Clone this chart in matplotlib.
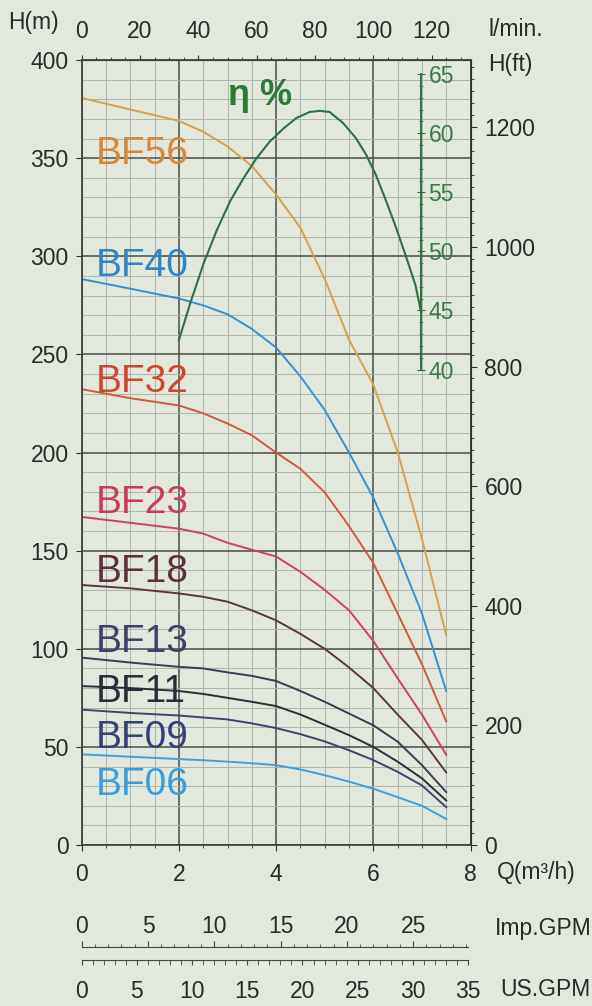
import matplotlib.pyplot as plt
from matplotlib.ticker import MultipleLocator, FixedLocator

plt.rcParams['font.family'] = ['Liberation Sans', 'DejaVu Sans']

# flow (m3/h) and head (m)
q = [0, 1, 2, 2.5, 3, 3.5, 4, 4.5, 5, 5.5, 6, 6.5, 7, 7.5]
bf56 = [380.7, 374.8, 369, 363.5, 356, 346, 331.5, 314.5, 288.5, 257.5, 234.6, 200.3, 156, 107]
bf40 = [288.4, 283.5, 278.5, 275, 270.5, 263, 253.5, 238.8, 221.7, 200, 177, 148.8, 118, 78.5]
bf32 = [232.3, 227.7, 224, 220, 214.8, 208.8, 200, 191.7, 179.7, 162.5, 143.7, 118, 92.2, 63]
bf23 = [167.2, 164.2, 161.2, 158.7, 154, 150.5, 147, 139.2, 130, 119.6, 104, 85, 66.5, 46]
bf18 = [132.5, 130.8, 128.2, 126.5, 124, 119.6, 114.5, 107.6, 100, 90.5, 80, 66.5, 53.6, 37]
bf13 = [95.5, 93, 90.8, 90, 88, 86.2, 83.6, 78.5, 73, 67, 61, 52.7, 40.7, 27]
bf11 = [81, 80, 78.5, 77, 75, 73, 70.8, 66.5, 61.3, 56, 50, 42.5, 34, 22.7]
bf09 = [69, 67.3, 66, 65, 64, 62, 59.6, 56.5, 52.8, 48.3, 43.3, 37.3, 30.4, 19.3]
bf06 = [46.2, 45, 43.8, 43.2, 42.5, 41.7, 40.7, 38.5, 35.6, 32.3, 28.7, 24.4, 20, 13.3]

# efficiency curve (%)
eta_q = [2.0, 2.24, 2.51, 2.78, 3.06, 3.33, 3.60, 3.87, 4.15, 4.42, 4.69, 4.90, 5.10,
         5.37, 5.64, 5.85, 6.05, 6.26, 6.46, 6.67, 6.87, 6.98]
eta = [42.5, 45.7, 49.0, 51.8, 54.3, 56.2, 57.9, 59.3, 60.4, 61.3, 61.8, 61.9, 61.8,
       60.9, 59.6, 58.2, 56.5, 54.3, 52.1, 49.6, 47.1, 44.9]

names = ['BF56', 'BF40', 'BF32', 'BF23', 'BF18', 'BF13', 'BF11', 'BF09', 'BF06']
heads = [bf56, bf40, bf32, bf23, bf18, bf13, bf11, bf09, bf06]

# styling
line_colors = ['#d9a050', '#3890d0', '#cf5a3e', '#c84560', '#5c3540',
               '#3b3b55', '#2d2d38', '#3a4470', '#3fa0dc']
text_colors = ['#d8873a', '#2e86c8', '#d0452f', '#cc3a55', '#5b2f3c',
               '#3e3f6a', '#2b2b3a', '#35407a', '#3a9de0']
label_base = [347, 290, 231, 169, 134, 98.5, 73, 49.4, 25.5]

bg = '#e2e8dc'
green = '#2f7040'
dark = '#2a2a2a'
fs = 16.5

fig = plt.figure(figsize=(5.92, 10.06), dpi=100, facecolor=bg)
ax = fig.add_axes([0.138, 0.160, 0.6568, 0.7803], facecolor=bg)
ax.set_xlim(0, 8)
ax.set_ylim(0, 400)
ax.xaxis.set_major_locator(MultipleLocator(2))
ax.xaxis.set_minor_locator(MultipleLocator(0.5))
ax.yaxis.set_major_locator(MultipleLocator(50))
ax.yaxis.set_minor_locator(MultipleLocator(10))
ax.grid(which='major', color='#474c47', lw=1.1)
ax.grid(which='minor', color='#adb4a9', lw=0.7)
ax.set_axisbelow(True)
ax.tick_params(which='major', direction='out', labelsize=fs, color='#333333', labelcolor=dark)
ax.tick_params(axis='y', which='major', length=4.5, pad=5)
ax.tick_params(axis='x', which='major', length=4, pad=9)
ax.tick_params(axis='y', which='minor', length=0)
ax.tick_params(axis='x', which='minor', length=2.5, color='#333333')
for s in ax.spines.values():
    s.set_color('#3a3a3a')
    s.set_linewidth(1.2)

for name, h, lc, tc, yb in zip(names, heads, line_colors, text_colors, label_base):
    ax.plot(q, h, color=lc, lw=1.4)
    ax.text(0.28, yb, name, color=tc, fontsize=28, ha='left', va='baseline')

# top scale in l/min
top = ax.secondary_xaxis('top', functions=(lambda x: x * 1000 / 60, lambda x: x * 60 / 1000))
top.xaxis.set_major_locator(FixedLocator(range(0, 121, 20)))
top.xaxis.set_minor_locator(FixedLocator(range(0, 131, 5)))
top.tick_params(which='major', direction='out', length=3.5, pad=9, labelsize=fs, labelcolor=dark, color='#333333')
top.tick_params(which='minor', direction='out', length=2.5, color='#333333')

# right scale in feet
ft = ax.secondary_yaxis('right', functions=(lambda m: m / 0.3048, lambda f: f * 0.3048))
ft.yaxis.set_major_locator(FixedLocator(range(0, 1201, 200)))
ft.yaxis.set_minor_locator(FixedLocator(range(0, 1301, 20)))
ft.tick_params(which='major', direction='out', length=4, pad=6, labelsize=fs, labelcolor=dark, color='#333333')
ft.tick_params(which='minor', direction='out', length=2.5, color='#333333')

# efficiency axis (40 % at H=242.3 m, 6.02 m per %)
ax2 = ax.twinx()
ax2.set_ylim(40 - 242.3 / 6.02, 40 + (400 - 242.3) / 6.02)
for side in ['top', 'bottom', 'left']:
    ax2.spines[side].set_visible(False)
ax2.spines['right'].set_position(('data', 6.99))
ax2.spines['right'].set_bounds(40, 65)
ax2.spines['right'].set_color(green)
ax2.spines['right'].set_linewidth(1.4)
ax2.yaxis.set_major_locator(FixedLocator(range(40, 66, 5)))
ax2.yaxis.set_minor_locator(FixedLocator(range(41, 65)))
ax2.tick_params(which='major', direction='inout', length=6, color=green, labelcolor='#3a7a4a', labelsize=fs, pad=2)
ax2.tick_params(which='minor', direction='inout', length=3, color=green)
ax2.plot(eta_q, eta, color=green, lw=1.5)
ax.text(3.0, 377, 'η %', color='#2a7a38', fontsize=26, fontweight='bold', ha='left', va='baseline')

# gallon scales under the chart
imp = fig.add_axes([0.138, 0.0586 - 0.02, 0.6568, 0.02])
imp.patch.set_visible(False)
imp.set_xlim(0, 8 * 3.6662)
imp.set_yticks([])
for side in ['bottom', 'left', 'right']:
    imp.spines[side].set_visible(False)
imp.spines['top'].set_bounds(0, 35 / 4.4029 * 3.6662)
imp.spines['top'].set_color('#444444')
imp.xaxis.tick_top()
imp.xaxis.set_major_locator(FixedLocator(range(0, 26, 5)))
imp.xaxis.set_minor_locator(FixedLocator(range(0, 30)))
imp.tick_params(which='major', direction='out', length=4, pad=2.5, labelsize=fs, labelcolor=dark, color='#444444')
imp.tick_params(which='minor', direction='out', length=2.5, color='#444444')

us = fig.add_axes([0.138, 0.0457, 0.6568, 0.02])
us.patch.set_visible(False)
us.set_xlim(0, 8 * 4.4029)
us.set_yticks([])
for side in ['top', 'left', 'right']:
    us.spines[side].set_visible(False)
us.spines['bottom'].set_bounds(0, 35)
us.spines['bottom'].set_color('#444444')
us.xaxis.set_major_locator(FixedLocator(range(0, 36, 5)))
us.xaxis.set_minor_locator(FixedLocator(range(0, 36)))
us.tick_params(which='major', direction='out', length=3.5, pad=11, labelsize=fs, labelcolor=dark, color='#444444')
us.tick_params(which='minor', direction='out', length=3.5, color='#444444')

# axis titles
fig.text(8 / 592, 1 - 22 / 1006, 'H(m)', fontsize=fs, color=dark, va='center', ha='left')
fig.text(488 / 592, 1 - 30 / 1006, 'l/min.', fontsize=fs, color=dark, va='center', ha='left')
fig.text(488 / 592, 1 - 65 / 1006, 'H(ft)', fontsize=fs, color=dark, va='center', ha='left')
fig.text(497 / 592, 1 - 872 / 1006, 'Q(m³/h)', fontsize=fs, color=dark, va='center', ha='left')
fig.text(495 / 592, 1 - 928 / 1006, 'Imp.GPM', fontsize=fs, color=dark, va='center', ha='left')
fig.text(500 / 592, 1 - 990 / 1006, 'US.GPM', fontsize=fs, color=dark, va='center', ha='left')

fig.savefig('out.png', dpi=100, facecolor=bg)
